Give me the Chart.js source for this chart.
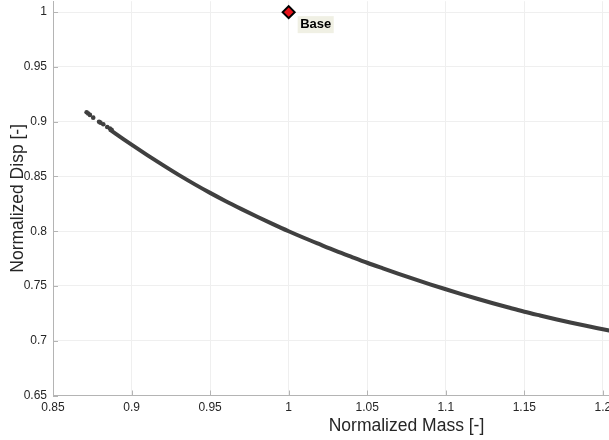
<!DOCTYPE html>
<html>
<head>
<meta charset="utf-8">
<script src="https://cdn.jsdelivr.net/npm/chart.js@4.4.1/dist/chart.umd.min.js"></script>
<style>
  html, body { margin:0; padding:0; background:#fff; width:609px; height:440px; overflow:hidden; }
  #wrap { position:absolute; left:0; top:-12px; width:780px; height:452px; }
</style>
</head>
<body>
<div id="wrap"><canvas id="chart"></canvas></div>
<script>
// values
const sparseMass = [0.8714, 0.8724, 0.8735, 0.8756, 0.8793, 0.8802, 0.8820, 0.8845, 0.8862, 0.8873];
const sparseDisp = [0.9086, 0.9075, 0.9062, 0.9037, 0.9000, 0.8991, 0.8976, 0.8952, 0.8938, 0.8927];

const denseMass = [0.886, 0.89, 0.90, 0.91, 0.92, 0.93, 0.94, 0.95, 0.96, 0.97, 0.98, 0.99,
                   1.00, 1.01, 1.02, 1.03, 1.04, 1.05, 1.06, 1.07, 1.08, 1.09, 1.10,
                   1.11, 1.12, 1.13, 1.14, 1.15, 1.16, 1.17, 1.18, 1.19, 1.20, 1.21];
const denseDisp = [0.8930, 0.8889, 0.8790, 0.8695, 0.8603, 0.8514, 0.8430, 0.8350, 0.8274, 0.8202, 0.8132, 0.8065,
                   0.8000, 0.7938, 0.7879, 0.7821, 0.7766, 0.7712, 0.7661, 0.7611, 0.7562, 0.7515, 0.7470,
                   0.7426, 0.7383, 0.7342, 0.7303, 0.7265, 0.7230, 0.7196, 0.7164, 0.7134, 0.7105, 0.7076];

const baseMass = [1.0];
const baseDisp = [1.0];
const baseLabel = 'Base';

const xTicks = [0.85, 0.9, 0.95, 1, 1.05, 1.1, 1.15, 1.2, 1.25, 1.3];
const yTicks = [0.65, 0.7, 0.75, 0.8, 0.85, 0.9, 0.95, 1];

const AXIS = '#b4b4b4';
const GRID = '#efefef';
const TEXT = '#262626';
const DOT  = '#404040';
const FONT = "'Liberation Sans', Arial, Helvetica, sans-serif";

const toPts = (xs, ys) => xs.map((x, i) => ({ x, y: ys[i] }));

// short inward tick marks, MATLAB style
const innerTicks = {
  id: 'innerTicks',
  afterDatasetsDraw(chart) {
    const { ctx, chartArea, scales } = chart;
    ctx.save();
    ctx.strokeStyle = AXIS;
    ctx.lineWidth = 1;
    ctx.beginPath();
    xTicks.forEach(v => {
      const px = Math.round(scales.x.getPixelForValue(v)) + 0.5;
      ctx.moveTo(px, chartArea.bottom);
      ctx.lineTo(px, chartArea.bottom - 5);
    });
    yTicks.forEach(v => {
      const py = Math.round(scales.y.getPixelForValue(v)) + 0.5;
      ctx.moveTo(chartArea.left, py);
      ctx.lineTo(chartArea.left + 5, py);
    });
    ctx.stroke();
    ctx.restore();
  }
};

// text box next to the base point
const baseTag = {
  id: 'baseTag',
  afterDraw(chart) {
    const { ctx, scales } = chart;
    const px = scales.x.getPixelForValue(baseMass[0]);
    const py = scales.y.getPixelForValue(baseDisp[0]);
    ctx.save();
    ctx.font = `bold 13px ${FONT}`;
    const w = ctx.measureText(baseLabel).width;
    ctx.fillStyle = '#f0f0e4';
    ctx.fillRect(px + 9, py + 4, w + 5, 17);
    ctx.fillStyle = '#000';
    ctx.textBaseline = 'middle';
    ctx.fillText(baseLabel, px + 11.5, py + 12.5);
    ctx.restore();
  }
};

new Chart(document.getElementById('chart'), {
  type: 'scatter',
  data: {
    datasets: [
      {
        data: toPts(sparseMass, sparseDisp),
        backgroundColor: DOT, borderColor: DOT,
        pointRadius: 2.3, borderWidth: 0
      },
      {
        data: toPts(denseMass, denseDisp),
        showLine: true,
        borderColor: DOT, backgroundColor: DOT,
        borderWidth: 4, pointRadius: 0, cubicInterpolationMode: 'monotone'
      },
      {
        data: toPts(baseMass, baseDisp),
        pointStyle: 'rectRot',
        pointRadius: 6,
        backgroundColor: '#e8131b',
        borderColor: '#000',
        borderWidth: 2,
        clip: false
      }
    ]
  },
  options: {
    responsive: true,
    maintainAspectRatio: false,
    animation: false,
    events: [],
    layout: { padding: { top: 10, right: 20, left: 0, bottom: 0 } },
    plugins: { legend: { display: false }, tooltip: { enabled: false } },
    scales: {
      x: {
        type: 'linear', min: 0.85, max: 1.3,
        afterBuildTicks: s => { s.ticks = xTicks.map(v => ({ value: v })); },
        afterFit: s => { s.height = 44.5; },
        grid: { color: GRID, drawTicks: false },
        border: { color: AXIS, width: 1 },
        ticks: {
          padding: 5, color: TEXT, maxRotation: 0,
          font: { family: FONT, size: 12 },
          callback: v => String(+v.toFixed(2))
        },
        title: {
          display: true, text: 'Normalized Mass [-]', color: TEXT,
          font: { family: FONT, size: 17.5 }, padding: { top: 0, bottom: 3 }
        }
      },
      y: {
        type: 'linear', min: 0.65, max: 1.01,
        afterBuildTicks: s => { s.ticks = yTicks.map(v => ({ value: v })); },
        afterFit: s => { s.width = 53; },
        grid: { color: GRID, drawTicks: false },
        border: { color: AXIS, width: 1 },
        ticks: {
          padding: 6, color: TEXT,
          font: { family: FONT, size: 12 },
          callback: v => String(+v.toFixed(2))
        },
        title: {
          display: true, text: 'Normalized Disp [-]', color: TEXT,
          font: { family: FONT, size: 17.5 }, padding: { top: 8, bottom: 0 }
        }
      }
    }
  },
  plugins: [innerTicks, baseTag]
});
</script>
</body>
</html>
